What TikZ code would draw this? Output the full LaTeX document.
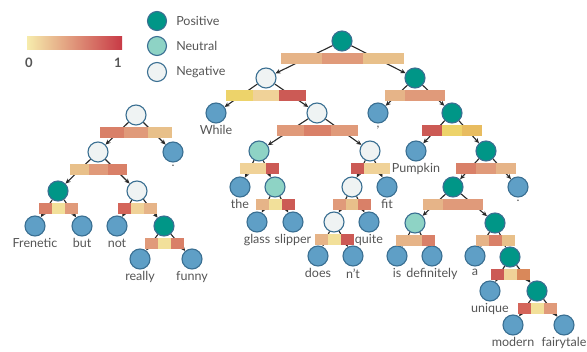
\documentclass[tikz,border=0pt]{standalone}
\usepackage{fontspec}
\setmainfont{Lato}
\usetikzlibrary{arrows.meta, positioning}
% node colours
\definecolor{posfill}{RGB}{0,150,135}
\definecolor{neufill}{RGB}{142,211,197}
\definecolor{negfill}{RGB}{239,243,243}
\definecolor{leaffill}{RGB}{95,159,198}
\definecolor{nodeborder}{RGB}{58,111,146}
\definecolor{textgray}{RGB}{85,85,85}
\definecolor{edgegray}{RGB}{40,40,40}
% attention colours
\definecolor{attY}{RGB}{237,211,106}
\definecolor{attYo}{RGB}{232,188,96}
\definecolor{attP}{RGB}{242,224,154}
\definecolor{attPl}{RGB}{240,210,152}
\definecolor{attL}{RGB}{232,192,138}
\definecolor{attO}{RGB}{230,180,136}
\definecolor{attS}{RGB}{224,154,122}
\definecolor{attRa}{RGB}{217,128,104}
\definecolor{attRb}{RGB}{212,101,90}
\definecolor{attR}{RGB}{204,90,85}
\definecolor{attOr}{RGB}{217,136,90}
\definecolor{cbLow}{RGB}{246,236,172}
\definecolor{cbMid}{RGB}{228,150,116}
\definecolor{cbHigh}{RGB}{200,58,70}
\tikzset{
    tnode/.style={circle, draw=nodeborder, line width=1.1pt, minimum size=20pt, inner sep=0pt},
    posnode/.style={tnode, fill=posfill},
    neunode/.style={tnode, fill=neufill},
    negnode/.style={tnode, fill=negfill},
    leafnode/.style={tnode, fill=leaffill},
    lbl/.style={inner sep=0pt, text=textgray, font=\fontsize{12.5}{14}\selectfont},
    edge/.style={-{Stealth[length=5pt, width=4.5pt]}, line width=1.1pt, draw=edgegray}
}
% attention bar under a node: node, segment width, three colours
\newcommand{\attbar}[5]{%
    \fill[#3] ([xshift=-1.5*#2pt, yshift=-1pt]#1.south) rectangle ++(#2pt,-11pt);
    \fill[#4] ([xshift=-0.5*#2pt, yshift=-1pt]#1.south) rectangle ++(#2pt,-11pt);
    \fill[#5] ([xshift=0.5*#2pt, yshift=-1pt]#1.south) rectangle ++(#2pt,-11pt);
}
\begin{document}
\begin{tikzpicture}[x=1pt, y=-1pt]
    \useasboundingbox (0,0) rectangle (587,352);

    % Legend
    \shade[left color=cbLow, middle color=cbMid, right color=cbHigh] (27,37) rectangle (122,50);
    \node[lbl, font=\fontsize{13}{14}\selectfont\bfseries] (cb0) at (29,63) {0};
    \node[lbl, font=\fontsize{13}{14}\selectfont\bfseries] (cb1) at (118,63) {1};
    \node[posnode, minimum size=19pt] (kpos) at (157,21) {};
    \node[neunode, minimum size=19pt] (kneu) at (157,46) {};
    \node[negnode, minimum size=19pt] (kneg) at (157,72) {};
    \node[lbl, right=9pt of kpos] {Positive};
    \node[lbl, right=9pt of kneu] {Neutral};
    \node[lbl, right=9pt of kneg] {Negative};

    % First sentence
    \node[negnode] (a) at (136,115) {};
    \node[negnode] (b) at (98,152) {};
    \node[leafnode] (adot) at (173,152) {};
    \node[posnode] (c) at (58,191) {};
    \node[negnode] (d) at (137,191) {};
    \node[leafnode] (frenetic) at (35,226) {};
    \node[leafnode] (but) at (82,226) {};
    \node[leafnode] (not) at (117,226) {};
    \node[posnode] (e) at (164,226) {};
    \node[leafnode] (really) at (140,259) {};
    \node[leafnode] (funny) at (192,259) {};

    % Second sentence
    \node[posnode] (root) at (342,41) {};
    \node[negnode] (s) at (266,78) {};
    \node[posnode] (t) at (415,78) {};
    \node[leafnode] (while) at (216,113) {};
    \node[negnode] (h) at (317,113) {};
    \node[leafnode] (comma) at (378,113) {};
    \node[posnode] (l) at (452,113) {};
    \node[neunode] (f) at (259,151) {};
    \node[negnode] (i) at (370,151) {};
    \node[leafnode] (pumpkin) at (416,151) {};
    \node[posnode] (m) at (486,151) {};
    \node[leafnode] (the) at (240,187) {};
    \node[neunode] (g) at (275,187) {};
    \node[negnode] (j) at (352,187) {};
    \node[leafnode] (fit) at (387,187) {};
    \node[posnode] (n) at (453,187) {};
    \node[leafnode] (mdot) at (518,187) {};
    \node[leafnode] (glass) at (257,222) {};
    \node[leafnode] (slipper) at (293,222) {};
    \node[negnode] (k) at (334,222) {};
    \node[leafnode] (quite) at (369,222) {};
    \node[neunode] (o) at (415,223) {};
    \node[posnode] (p) at (495,223) {};
    \node[leafnode] (does) at (318,256) {};
    \node[leafnode] (nt) at (353,256) {};
    \node[leafnode] (is) at (397,256) {};
    \node[leafnode] (definitely) at (432,256) {};
    \node[leafnode] (aa) at (475,256) {};
    \node[posnode] (q) at (510,257) {};
    \node[leafnode] (unique) at (490,291) {};
    \node[posnode] (r) at (537,291) {};
    \node[leafnode] (modern) at (513,325) {};
    \node[leafnode] (fairytale) at (564,325) {};

    % Word labels
    \node[lbl, below=2pt of frenetic] {Frenetic};
    \node[lbl, below=2pt of but] {but};
    \node[lbl, below=2pt of not] {not};
    \node[lbl, below=2pt of really] {really};
    \node[lbl, below=2pt of funny] {funny};
    \node[lbl, below=2pt of adot] {.};
    \node[lbl, below=2pt of while] {While};
    \node[lbl, below=2pt of the] {the};
    \node[lbl, below=2pt of glass] {glass};
    \node[lbl, below=2pt of slipper] {slipper};
    \node[lbl, below=2pt of does] {does};
    \node[lbl, below=2pt of nt] {n't};
    \node[lbl, below=2pt of quite] {quite};
    \node[lbl, below=2pt of fit] {fit};
    \node[lbl, below=2pt of comma] {,};
    \node[lbl, below=2pt of pumpkin] {Pumpkin};
    \node[lbl, below=2pt of is] {is};
    \node[lbl, below=2pt of definitely] {definitely};
    \node[lbl, below=2pt of aa] {a};
    \node[lbl, below=2pt of unique] {unique};
    \node[lbl, below=2pt of modern] {modern};
    \node[lbl, below=2pt of fairytale] {fairytale};
    \node[lbl, below=2pt of mdot] {.};

    % Edges, first sentence
    \draw[edge] (a) -- (b);
    \draw[edge] (a) -- (adot);
    \draw[edge] (b) -- (c);
    \draw[edge] (b) -- (d);
    \draw[edge] (c) -- (frenetic);
    \draw[edge] (c) -- (but);
    \draw[edge] (d) -- (not);
    \draw[edge] (d) -- (e);
    \draw[edge] (e) -- (really);
    \draw[edge] (e) -- (funny);

    % Edges, second sentence
    \draw[edge] (root) -- (s);
    \draw[edge] (root) -- (t);
    \draw[edge] (s) -- (while);
    \draw[edge] (s) -- (h);
    \draw[edge] (h) -- (f);
    \draw[edge] (h) -- (i);
    \draw[edge] (f) -- (the);
    \draw[edge] (f) -- (g);
    \draw[edge] (g) -- (glass);
    \draw[edge] (g) -- (slipper);
    \draw[edge] (i) -- (j);
    \draw[edge] (i) -- (fit);
    \draw[edge] (j) -- (k);
    \draw[edge] (j) -- (quite);
    \draw[edge] (k) -- (does);
    \draw[edge] (k) -- (nt);
    \draw[edge] (t) -- (comma);
    \draw[edge] (t) -- (l);
    \draw[edge] (l) -- (pumpkin);
    \draw[edge] (l) -- (m);
    \draw[edge] (m) -- (n);
    \draw[edge] (m) -- (mdot);
    \draw[edge] (n) -- (o);
    \draw[edge] (n) -- (p);
    \draw[edge] (o) -- (is);
    \draw[edge] (o) -- (definitely);
    \draw[edge] (p) -- (aa);
    \draw[edge] (p) -- (q);
    \draw[edge] (q) -- (unique);
    \draw[edge] (q) -- (r);
    \draw[edge] (r) -- (modern);
    \draw[edge] (r) -- (fairytale);

    % Attention bars
    \attbar{a}{24.3}{attRa}{attS}{attL}
    \attbar{b}{19}{attL}{attS}{attRa}
    \attbar{c}{13}{attRa}{attP}{attS}
    \attbar{d}{13}{attRb}{attPl}{attO}
    \attbar{e}{13}{attS}{attP}{attRa}
    \attbar{root}{41}{attO}{attS}{attL}
    \attbar{s}{26.7}{attY}{attPl}{attR}
    \attbar{t}{20}{attO}{attS}{attS}
    \attbar{h}{27}{attS}{attRa}{attS}
    \attbar{f}{13}{attPl}{attPl}{attR}
    \attbar{g}{13}{attO}{attP}{attR}
    \attbar{i}{13}{attR}{attPl}{attPl}
    \attbar{j}{12.7}{attS}{attL}{attRa}
    \attbar{k}{13}{attO}{attP}{attR}
    \attbar{l}{20}{attR}{attY}{attYo}
    \attbar{m}{20}{attRa}{attS}{attO}
    \attbar{n}{20}{attO}{attS}{attS}
    \attbar{o}{13}{attO}{attO}{attRa}
    \attbar{p}{13}{attO}{attRa}{attL}
    \attbar{q}{13}{attR}{attPl}{attOr}
    \attbar{r}{13}{attRb}{attP}{attS}
\end{tikzpicture}
\end{document}
